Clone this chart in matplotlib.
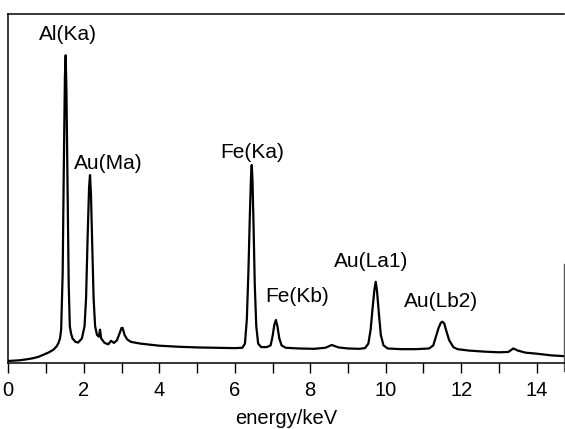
import matplotlib
matplotlib.use("Agg")
import matplotlib.pyplot as plt

# Spectrum points (energy in keV, intensity in arbitrary units)
energy = [0.00, 0.30, 0.50, 0.66, 0.80, 0.93, 1.06, 1.19, 1.28, 1.33, 1.37,
          1.40, 1.44, 1.47, 1.50, 1.52, 1.54, 1.57, 1.60, 1.63, 1.66, 1.70, 1.78, 1.85,
          1.95, 2.02, 2.06, 2.10, 2.14, 2.165, 2.19, 2.22, 2.26, 2.30, 2.35, 2.40, 2.43, 2.46,
          2.55, 2.65, 2.72, 2.80, 2.88, 2.95, 3.00, 3.03, 3.08, 3.15, 3.25,
          3.50, 4.00, 4.50, 5.00, 5.50, 6.00, 6.20,
          6.27, 6.32, 6.36, 6.40, 6.43, 6.45, 6.47, 6.50, 6.53, 6.57, 6.62, 6.70,
          6.85, 6.95, 7.00, 7.05, 7.09, 7.13, 7.18, 7.24, 7.35,
          7.70, 8.10, 8.40, 8.57, 8.75, 9.00, 9.30, 9.45,
          9.54, 9.60, 9.65, 9.70, 9.735, 9.77, 9.82, 9.87, 9.94, 10.05,
          10.40, 10.80, 11.15,
          11.26, 11.33, 11.40, 11.46, 11.50, 11.55, 11.61, 11.68, 11.79, 11.90,
          12.20, 12.60, 13.00, 13.25, 13.38, 13.50, 13.70, 14.00, 14.40, 14.72]
counts = [0.0, 0.2, 0.5, 0.8, 1.2, 1.8, 2.4, 3.2, 4.2, 5.2, 6.5,
          9.0, 25.0, 55.0, 82.0, 88.0, 78.0, 50.0, 22.0, 10.0, 8.0, 6.5, 5.5, 5.3,
          6.5, 10.0, 18.0, 35.0, 50.0, 53.5, 48.0, 35.0, 18.0, 10.0, 7.5, 7.0, 9.0, 6.5,
          5.2, 4.8, 5.8, 5.2, 6.0, 8.0, 9.5, 9.5, 7.5, 6.2, 5.5,
          5.0, 4.4, 4.1, 3.9, 3.8, 3.7, 3.8,
          5.0, 12.0, 25.0, 42.0, 53.0, 56.4, 52.0, 38.0, 22.0, 10.0, 5.0, 4.0,
          4.0, 4.5, 7.0, 10.5, 11.8, 10.0, 6.5, 4.5, 3.8,
          3.6, 3.5, 3.8, 4.6, 3.9, 3.6, 3.5, 3.7,
          5.0, 9.0, 15.0, 20.5, 22.8, 20.0, 13.5, 7.5, 4.5, 3.6,
          3.4, 3.4, 3.6,
          4.5, 7.0, 9.5, 11.0, 11.3, 10.8, 8.5, 6.0, 4.0, 3.4,
          3.0, 2.7, 2.5, 2.6, 3.6, 3.0, 2.4, 2.1, 1.6, 1.4]

# Peak annotations
peak_labels = ["Al(Ka)", "Au(Ma)", "Fe(Ka)", "Fe(Kb)", "Au(La1)", "Au(Lb2)"]
label_x = [1.58, 2.64, 6.46, 7.65, 9.61, 11.465]
label_y = [94.1, 56.7, 60.1, 18.7, 28.5, 17.0]

x_ticks = list(range(0, 15))
x_ticklabels = [str(t) if t % 2 == 0 else "" for t in x_ticks]

plt.rcParams['font.family'] = ['Liberation Sans', 'DejaVu Sans']

fig = plt.figure(figsize=(5.65, 4.29), dpi=100)
ax = fig.add_axes([0.0147, 0.1545, 0.998 - 0.0147, 0.9685 - 0.1545])

ax.plot(energy, counts, color="black", linewidth=1.6)

for lab, lx, ly in zip(peak_labels, label_x, label_y):
    ax.text(lx, ly, lab, ha="center", va="center", fontsize=15, color="black")

ax.set_xlim(0, 14.72)
ax.set_ylim(-0.5, 100)
ax.set_xticks(x_ticks)
ax.set_xticklabels(x_ticklabels, fontsize=14.5)
ax.set_yticks([])
ax.tick_params(axis="x", direction="out", length=7.5, width=1.0, pad=6, color="black")
ax.set_xlabel("energy/keV", fontsize=14.5, labelpad=6)

for s in ["left", "bottom", "top"]:
    ax.spines[s].set_linewidth(1.1)
    ax.spines[s].set_color("black")
ax.spines["right"].set_bounds(-3, 28)
ax.spines["right"].set_linewidth(1.0)
ax.spines["right"].set_color("#555555")

fig.savefig("out.png", dpi=100)
